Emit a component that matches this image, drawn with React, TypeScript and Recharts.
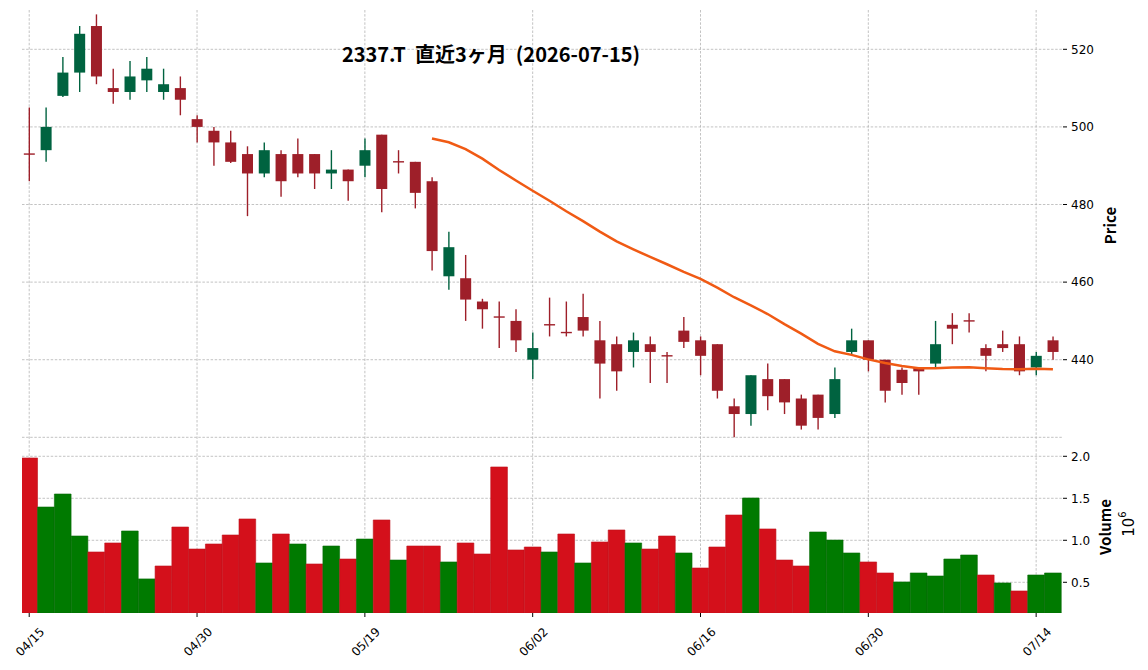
import React from 'react';
import { ComposedChart, Bar, Line, XAxis, YAxis, CartesianGrid, Cell } from 'recharts';

// trading days (MM/DD), 2026-04-15 .. 2026-07-15
const dates = [
  '04/15', '04/16', '04/17', '04/20', '04/21', '04/22', '04/23', '04/24', '04/27', '04/28',
  '04/30', '05/01', '05/07', '05/08', '05/11', '05/12', '05/13', '05/14', '05/15', '05/18',
  '05/19', '05/20', '05/21', '05/22', '05/25', '05/26', '05/27', '05/28', '05/29', '06/01',
  '06/02', '06/03', '06/04', '06/05', '06/08', '06/09', '06/10', '06/11', '06/12', '06/15',
  '06/16', '06/17', '06/18', '06/19', '06/22', '06/23', '06/24', '06/25', '06/26', '06/29',
  '06/30', '07/01', '07/02', '07/03', '07/06', '07/07', '07/08', '07/09', '07/10', '07/13',
  '07/14', '07/15',
];

const opens = [
  493, 494, 508, 514, 526, 510, 509, 512, 509, 510,
  502, 499, 496, 493, 488, 493, 493, 493, 488, 489,
  490, 498, 491, 491, 486, 461.5, 461, 455, 451, 450,
  440, 449, 447, 451, 445, 444, 442, 444, 441, 447.5,
  445, 444, 428, 426, 435, 435, 430, 431, 426, 442,
  445, 440, 437.4, 438, 439, 449, 450, 443, 444, 444,
  438, 445,
];

const highs = [
  505, 505, 518, 526, 529, 515, 517, 518, 515, 513,
  503, 500, 499, 495, 496, 494, 497, 493, 494, 489,
  497, 498, 494, 491, 487, 473, 467, 455.7, 455, 453,
  447, 456, 455, 457, 450, 446, 447, 446, 442, 451,
  446, 444, 430, 436, 439, 435, 431, 431, 438, 448,
  445, 440, 438, 438, 450, 452, 452, 444, 447.5, 446,
  442, 446,
];

const lows = [
  486, 491, 507.7, 509, 511, 506, 507, 509, 507, 503,
  496, 490, 490.7, 477, 487, 482, 487, 484, 484, 481,
  487, 478, 488, 479, 463, 458, 450, 448, 443, 442,
  435, 446, 446, 446, 430, 432, 438, 434, 434, 443,
  436, 430, 420, 423, 427, 426, 422, 422, 425, 441,
  437, 429, 431, 431, 438, 444, 447, 437, 442, 436,
  436, 440,
];

const closes = [
  493, 500, 514, 524, 513, 509, 513, 515, 511, 507,
  500, 496, 491, 488, 494, 486, 488, 488, 489, 486,
  494, 484, 491, 483, 468, 469, 455.5, 453, 451, 445,
  443, 449, 447, 447.5, 439, 437, 445, 442, 441, 444.6,
  441, 432, 426, 436, 430.6, 429, 423, 425, 435, 445,
  440, 432, 434, 437, 444, 448, 450, 441, 443, 437,
  441, 442,
];

// volume in millions of shares
const volumes = [
  1.98, 1.396, 1.551, 1.051, 0.861, 0.968, 1.111, 0.54, 0.694, 1.158,
  0.896, 0.956, 1.063, 1.254, 0.73, 1.075, 0.956, 0.718, 0.932, 0.777,
  1.015, 1.242, 0.765, 0.932, 0.932, 0.742, 0.968, 0.837, 1.873, 0.885,
  0.92, 0.861, 1.075, 0.73, 0.98, 1.123, 0.968, 0.896, 1.051, 0.849,
  0.67, 0.92, 1.301, 1.504, 1.135, 0.765, 0.694, 1.099, 1.003, 0.849,
  0.742, 0.611, 0.504, 0.611, 0.575, 0.777, 0.825, 0.587, 0.492, 0.397,
  0.587, 0.611,
];

const priceTicks = [420, 440, 460, 480, 500, 520];
const volumeTicks = [0.5, 1.0, 1.5, 2.0];
const dateTicks = [0, 10, 20, 30, 40, 50, 60];

const MA_WINDOW = 25;

const CANDLE_UP = '#006340';
const CANDLE_DOWN = '#9e1f29';
const VOL_UP = '#007a00';
const VOL_DOWN = '#d4101b';
const MA_COLOR = '#f05a14';
const GRID = '#b4b4b4';
const FONT = '"Noto Sans CJK JP", "Noto Sans", sans-serif';
const TICK_FONT = '"DejaVu Sans", sans-serif';

const X_DOMAIN: [number, number] = [-0.43, 61.6];
const PRICE_DOMAIN: [number, number] = [419.05, 530.13];
const VOLUME_DOMAIN: [number, number] = [0.1345, 2.182];

const rows = dates.map((date, i) => {
  let ma: number | null = null;
  if (i >= MA_WINDOW - 1) {
    const win = closes.slice(i - MA_WINDOW + 1, i + 1);
    ma = win.reduce((a, b) => a + b, 0) / MA_WINDOW;
  }
  return {
    idx: i,
    date,
    open: opens[i],
    high: highs[i],
    low: lows[i],
    close: closes[i],
    range: [lows[i], highs[i]],
    volume: volumes[i],
    volUp: i > 0 && closes[i] > closes[i - 1],
    ma,
  };
});

// grid only at the tick values (no lines on the plot edges)
const xGrid = ({ xAxis, offset }: any) =>
  dateTicks.map((t) =>
    xAxis && typeof xAxis.scale === 'function'
      ? xAxis.scale(t)
      : offset.left + ((t - X_DOMAIN[0]) / (X_DOMAIN[1] - X_DOMAIN[0])) * offset.width,
  );

const yGrid = (ticks: number[], domain: [number, number]) => ({ yAxis, offset }: any) =>
  ticks.map((t) =>
    yAxis && typeof yAxis.scale === 'function'
      ? yAxis.scale(t)
      : offset.top + ((domain[1] - t) / (domain[1] - domain[0])) * offset.height,
  );

// wick + body drawn inside the low..high bar that recharts positions for us
const Candle = (props: any) => {
  const { x, y, width, height, payload } = props;
  if (!payload) return null;
  const top = Math.min(y, y + height);
  const h = Math.abs(height);
  const { open, close, high, low } = payload;
  const perUnit = h / (high - low);
  const toY = (v: number) => top + (high - v) * perUnit;
  const color = close > open ? CANDLE_UP : CANDLE_DOWN;
  const cx = x + width / 2;
  const bTop = toY(Math.max(open, close));
  const bBot = toY(Math.min(open, close));
  const bh = Math.max(bBot - bTop, 1.4);
  return (
    <g>
      <line x1={cx} x2={cx} y1={top} y2={top + h} stroke={color} strokeWidth={1.4} />
      <rect x={x} y={bBot - bTop < 1.4 ? bTop - 0.7 : bTop} width={width} height={bh} fill={color} />
    </g>
  );
};

const DateTick = (props: any) => {
  const { x, y, payload } = props;
  const label = dates[payload.value] ?? '';
  return (
    <text
      transform={`translate(${x + 1},${y + 23}) rotate(-45)`}
      textAnchor="middle"
      dominantBaseline="central"
      fontSize={12}
      fontFamily={TICK_FONT}
      fill="#000"
    >
      {label}
    </text>
  );
};

const axisTitle = (text: string) => (props: any) => {
  const vb = props.viewBox;
  return (
    <text
      transform={`translate(${vb.x + 46},${vb.y + vb.height / 2}) rotate(-90)`}
      textAnchor="middle"
      dominantBaseline="central"
      fontSize={15}
      fontWeight="bold"
      fontFamily={FONT}
      fill="#000"
    >
      {text}
    </text>
  );
};

const volumeTitle = (props: any) => {
  const vb = props.viewBox;
  const cy = vb.y + vb.height / 2;
  return (
    <g>
      <text
        transform={`translate(${vb.x + 41},${cy}) rotate(-90)`}
        textAnchor="middle"
        dominantBaseline="central"
        fontSize={15}
        fontWeight="bold"
        fontFamily={FONT}
        fill="#000"
      >
        Volume
      </text>
      <text
        transform={`translate(${vb.x + 66},${cy - 3}) rotate(-90)`}
        textAnchor="middle"
        dominantBaseline="central"
        fontSize={15}
        fontFamily={TICK_FONT}
        fill="#000"
      >
        10<tspan fontSize={10} dy={-7}>6</tspan>
      </text>
    </g>
  );
};

const App: React.FC = () => {
  return (
    <div style={{ position: 'absolute', left: 0, top: 0, width: 1148, height: 670, background: '#fff' }}>
      <div
        style={{
          position: 'absolute',
          left: 291,
          top: 39,
          width: 400,
          textAlign: 'center',
          fontFamily: FONT,
          fontWeight: 'bold',
          fontSize: 20,
          lineHeight: '30px',
          zIndex: 2,
          whiteSpace: 'pre',
        }}
      >
        {'2337.T  直近3ヶ月  (2026-07-15)'}
      </div>

      <div style={{ position: 'absolute', left: 0, top: 0 }}>
        <ComposedChart width={1148} height={441} data={rows} margin={{ top: 10, right: 0, bottom: 0, left: 22 }}>
          <CartesianGrid
            stroke={GRID}
            strokeDasharray="2.5 1.6"
            strokeWidth={0.8}
            verticalCoordinatesGenerator={xGrid}
            horizontalCoordinatesGenerator={yGrid(priceTicks, PRICE_DOMAIN)}
          />
          <XAxis dataKey="idx" type="number" domain={X_DOMAIN} ticks={dateTicks} allowDataOverflow hide />
          <YAxis
            orientation="right"
            type="number"
            domain={PRICE_DOMAIN}
            ticks={priceTicks}
            allowDataOverflow
            width={85}
            axisLine={false}
            tickSize={4}
            tickMargin={4}
            tickLine={{ stroke: '#000' }}
            tick={{ fontSize: 12, fill: '#000', fontFamily: TICK_FONT, textAnchor: 'start' }}
            label={{ value: 'Price', content: axisTitle('Price') }}
          />
          <Bar dataKey="range" barSize={11} shape={<Candle />} isAnimationActive={false} />
          <Line dataKey="ma" type="linear" stroke={MA_COLOR} strokeWidth={2.5} dot={false} isAnimationActive={false} connectNulls={false} />
        </ComposedChart>
      </div>

      <div style={{ position: 'absolute', left: 0, top: 441 }}>
        <ComposedChart width={1148} height={229} data={rows} margin={{ top: 0, right: 0, bottom: 0, left: 22 }}>
          <CartesianGrid
            stroke={GRID}
            strokeDasharray="2.5 1.6"
            strokeWidth={0.8}
            verticalCoordinatesGenerator={xGrid}
            horizontalCoordinatesGenerator={yGrid(volumeTicks, VOLUME_DOMAIN)}
          />
          <XAxis
            dataKey="idx"
            type="number"
            domain={X_DOMAIN}
            ticks={dateTicks}
            allowDataOverflow
            height={57}
            axisLine={false}
            tickSize={4}
            tickLine={{ stroke: '#000' }}
            tick={<DateTick />}
          />
          <YAxis
            orientation="right"
            type="number"
            domain={VOLUME_DOMAIN}
            ticks={volumeTicks}
            allowDataOverflow
            width={85}
            axisLine={false}
            tickSize={4}
            tickMargin={4}
            tickLine={{ stroke: '#000' }}
            tickFormatter={(v: number) => v.toFixed(1)}
            tick={{ fontSize: 12, fill: '#000', fontFamily: TICK_FONT, textAnchor: 'start' }}
            label={{ value: 'Volume', content: volumeTitle }}
          />
          <Bar dataKey="volume" barSize={16.7} isAnimationActive={false}>
            {rows.map((r) => (
              <Cell
                key={r.idx}
                fill={r.volUp ? VOL_UP : VOL_DOWN}
                stroke={r.volUp ? '#066a06' : '#c0121c'}
                strokeWidth={0.6}
              />
            ))}
          </Bar>
        </ComposedChart>
      </div>
    </div>
  );
};

export default App;
